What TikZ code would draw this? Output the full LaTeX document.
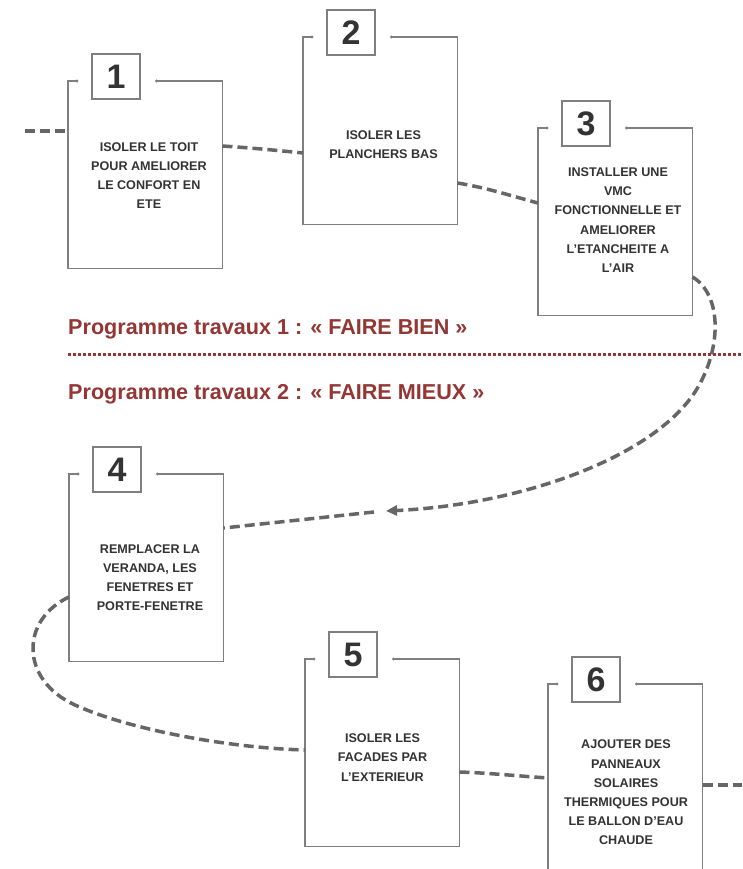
\documentclass[tikz,border=0pt]{standalone}
\usepackage{fontspec}
\setmainfont{Liberation Sans}
\usetikzlibrary{calc,arrows.meta}
\definecolor{framecol}{HTML}{7F7F7F}
\definecolor{conncol}{HTML}{666666}
\definecolor{titlecol}{HTML}{943634}
\definecolor{txtcol}{HTML}{333333}
\tikzset{
 framebox/.style={rectangle, minimum width=154.5pt, minimum height=187.5pt, inner sep=0pt, outer sep=0pt},
 frameline/.style={draw=framecol, line width=1.4pt},
 numbox/.style={draw=framecol, line width=1.2pt, fill=white, minimum width=48pt, minimum height=45pt, inner sep=0pt, font=\fontsize{34}{34}\selectfont\bfseries, text=txtcol},
 steptext/.style={align=center, font=\fontsize{12.6}{19.2}\selectfont\bfseries, text=txtcol, inner sep=0pt},
 conn/.style={draw=conncol, line width=3.5pt, dash pattern=on 10pt off 5pt},
 dotline/.style={draw=titlecol, line width=3pt, dash pattern=on 2.5pt off 2.5pt},
 titletext/.style={font=\fontsize{21.6}{24}\selectfont\bfseries, text=titlecol, anchor=base west, inner sep=0pt},
}
\newcommand\etape[6]{%
 \node[framebox] (f#1) at ({#2+77.25},{#3+93.75}) {};
 \draw[frameline] ($(f#1.north west)+(9,0)$) -- (f#1.north west) -- (f#1.south west) -- (f#1.south east) -- (f#1.north east) -- ($(f#1.north east)+(-66,0)$);
 \fill[framecol] ($(f#1.north west)+(9,0)$) circle (1.7pt);
 \fill[framecol] ($(f#1.north east)+(-66,0)$) circle (1.7pt);
 \node[numbox] (n#1) at ($(f#1.north west)+(48,-4.5)$) {#1};
 \node[steptext] (t#1) at (#4,#5) {#6};
}
\begin{document}
\begin{tikzpicture}[x=1pt,y=-1pt]
\clip (0,0) rectangle (742,869);
\fill[white] (0,0) rectangle (742,869);

\etape{1}{68}{81}{149}{175.5}{ISOLER LE TOIT\\POUR AMELIORER\\LE CONFORT EN\\ETE}
\etape{2}{303}{37}{383.5}{145}{ISOLER LES\\PLANCHERS BAS}
\etape{3}{538}{128}{618}{220}{INSTALLER UNE\\VMC\\FONCTIONNELLE ET\\AMELIORER\\L'ETANCHEITE A\\L'AIR}
\etape{4}{69}{474}{150}{577.5}{REMPLACER LA\\VERANDA, LES\\FENETRES ET\\PORTE-FENETRE}
\etape{5}{305}{659}{382.5}{757.5}{ISOLER LES\\FACADES PAR\\L'EXTERIEUR}
\etape{6}{548}{684}{626}{792.5}{AJOUTER DES\\PANNEAUX\\SOLAIRES\\THERMIQUES POUR\\LE BALLON D'EAU\\CHAUDE}

% connectors
\coordinate (s0) at (25,131);
\draw[conn] (s0) -- (s0 -| f1.west);
\draw[conn] ($(f1.north east)+(0,65)$) .. controls +(30,2) and +(-30,-3) .. ($(f2.north west)+(0,116)$);
\draw[conn] ($(f2.north east)+(0,146)$) .. controls +(30,5) and +(-30,-8) .. ($(f3.north west)+(0,75)$);
\coordinate (arr) at (386,511);
\draw[conn,-{Triangle[length=11pt,width=10pt]}] ($(f3.north east)+(0,149)$) .. controls +(30,18) and +(27,-42) .. (695,392) .. controls +(-45,68) and +(130,-6) .. (arr);
\draw[conn] ($(arr)+(-12,1)$) -- ($(f4.north east)+(0,54)$);
\draw[conn] ($(f4.north west)+(0,123)$) .. controls +(-49,23) and +(-55,-25) .. (75,705) .. controls +(55,25) and +(-75,-2) .. ($(f5.north west)+(0,91)$);
\draw[conn] ($(f5.north east)+(0,113)$) .. controls +(30,1) and +(-30,-2) .. ($(f6.north west)+(0,94)$);
\coordinate (e6) at (742,785);
\draw[conn] ($(f6.north east)+(0,101)$) -- (e6);

% separator and titles
\coordinate (d0) at (68,354);
\coordinate (d1) at (742,354);
\draw[dotline] (d0) -- (d1);
\node[titletext] (title1) at (68,334) {Programme travaux 1 : « FAIRE BIEN »};
\node[titletext] (title2) at (68,399) {Programme travaux 2 : « FAIRE MIEUX »};
\end{tikzpicture}
\end{document}
